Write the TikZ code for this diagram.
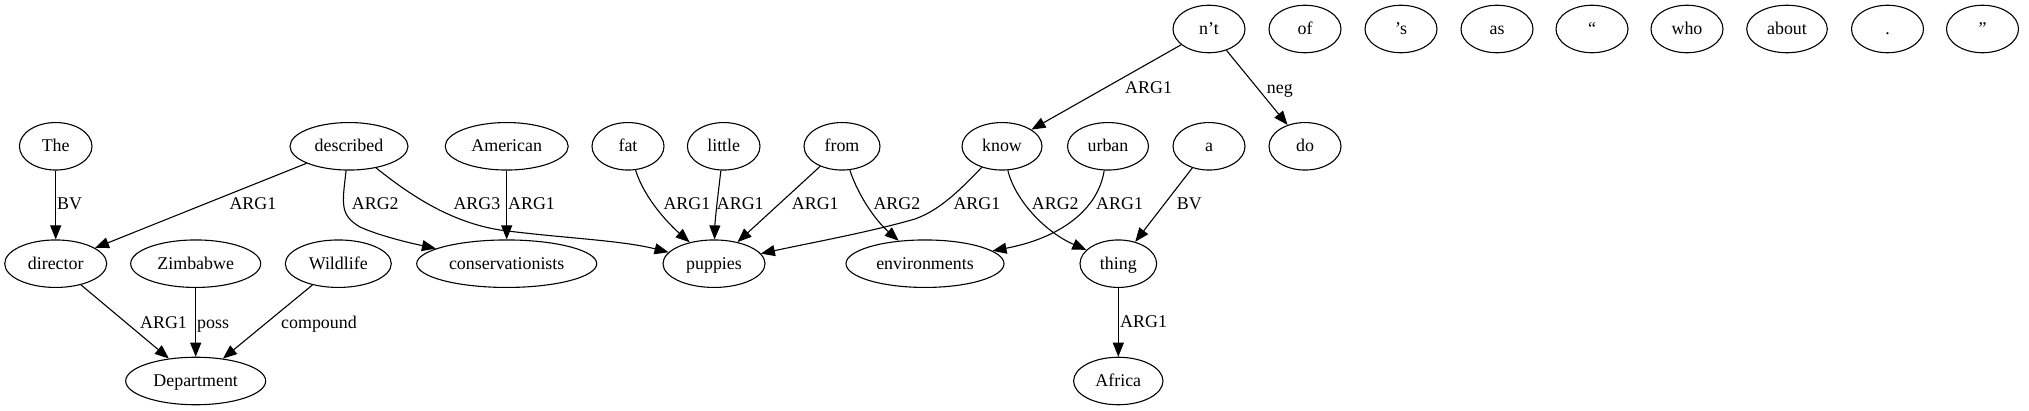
\documentclass[tikz,border=0pt]{standalone}
\usepackage{fontspec}
\setmainfont{Liberation Serif}
\usetikzlibrary{shapes.geometric,arrows.meta}
\begin{document}
\begin{tikzpicture}[x=1pt,y=-1pt,
  wn/.style={draw,ellipse,line width=1.1pt,inner sep=0pt,minimum height=47.5pt,
    text height=14.8pt,text depth=4pt,font=\fontsize{17.9}{20}\selectfont},
  lb/.style={anchor=base west,inner sep=0pt,font=\fontsize{17.9}{20}\selectfont},
  ed/.style={line width=1.1pt,-{Triangle[length=14pt,width=11pt]}}]
\useasboundingbox (0,0) rectangle (2029,411);
% row 1
\node[wn,minimum width=72pt] (nt) at (1209,29) {n’t};
\node[wn,minimum width=72pt] (of) at (1305,29) {of};
\node[wn,minimum width=72pt] (s) at (1401,29) {’s};
\node[wn,minimum width=72pt] (as) at (1497,29) {as};
\node[wn,minimum width=72pt] (lq) at (1592,29) {“};
\node[wn,minimum width=72pt] (who) at (1687,29) {who};
\node[wn,minimum width=80.6pt] (about) at (1787,29) {about};
\node[wn,minimum width=72pt] (dot) at (1887.5,29) {.};
\node[wn,minimum width=72pt] (rq) at (1982.5,29) {”};
% row 2
\node[wn,minimum width=72.6pt] (The) at (55.7,146.3) {The};
\node[wn,minimum width=118pt] (described) at (349,146.3) {described};
\node[wn,minimum width=123pt] (American) at (506.7,146.3) {American};
\node[wn,minimum width=72pt] (fat) at (628,146.3) {fat};
\node[wn,minimum width=72.6pt] (little) at (723.7,146.3) {little};
\node[wn,minimum width=76pt] (from) at (842,146.3) {from};
\node[wn,minimum width=80pt] (know) at (1002,146.3) {know};
\node[wn,minimum width=81pt] (urban) at (1108,146.3) {urban};
\node[wn,minimum width=72pt] (a) at (1209,146.3) {a};
\node[wn,minimum width=72pt] (do) at (1305,146.3) {do};
% row 3
\node[wn,minimum width=102pt] (director) at (55.7,263.7) {director};
\node[wn,minimum width=130pt] (Zimbabwe) at (195.7,263.7) {Zimbabwe};
\node[wn,minimum width=106pt] (Wildlife) at (338.3,263.7) {Wildlife};
\node[wn,minimum width=180pt] (cons) at (506.7,263.7) {conservationists};
\node[wn,minimum width=102pt] (puppies) at (714,263.7) {puppies};
\node[wn,minimum width=158pt] (env) at (925,263.7) {environments};
\node[wn,minimum width=76.6pt] (thing) at (1118.3,263.7) {thing};
% row 4
\node[wn,minimum width=140pt] (Dept) at (195.7,381) {Department};
\node[wn,minimum width=89.4pt] (Africa) at (1118.3,381) {Africa};
% edges
\draw[ed] (The) -- (director);
\draw[ed] (described) -- (director);
\draw[ed] (described) .. controls (342,205) and (340,215) .. (360,227) .. controls (380,236) and (410,243) .. (cons);
\draw[ed] (described) .. controls (410,195) and (450,222) .. (500,230) .. controls (560,238) and (620,240) .. (puppies);
\draw[ed] (American) -- (cons);
\draw[ed] (fat) .. controls (645,200) and (670,225) .. (puppies);
\draw[ed] (little) .. controls (718,195) and (715,220) .. (puppies);
\draw[ed] (from) -- (puppies);
\draw[ed] (from) .. controls (858,195) and (875,220) .. (env);
\draw[ed] (know) .. controls (960,190) and (940,210) .. (915,219) .. controls (870,232) and (810,243) .. (puppies);
\draw[ed] (know) .. controls (1015,200) and (1045,232) .. (thing);
\draw[ed] (urban) .. controls (1098,210) and (1060,238) .. (env);
\draw[ed] (a) -- (thing);
\draw[ed] (nt) -- (know);
\draw[ed] (nt) -- (do);
\draw[ed] (director) -- (Dept);
\draw[ed] (Zimbabwe) -- (Dept);
\draw[ed] (Wildlife) -- (Dept);
\draw[ed] (thing) -- (Africa);
% labels
\node[lb] (l1) at (57,210) {BV};
\node[lb] (l2) at (229.3,210) {ARG1};
\node[lb] (l3) at (351.7,210) {ARG2};
\node[lb] (l4) at (453.3,210) {ARG3};
\node[lb] (l5) at (508,210) {ARG1};
\node[lb] (l6) at (663.3,210) {ARG1};
\node[lb] (l7) at (716.7,210) {ARG1};
\node[lb] (l8) at (791.7,210) {ARG1};
\node[lb] (l9) at (873.3,210) {ARG2};
\node[lb] (l10) at (953.3,210) {ARG1};
\node[lb] (l11) at (1031.7,210) {ARG2};
\node[lb] (l12) at (1096,210) {ARG1};
\node[lb] (l13) at (1176.7,210) {BV};
\node[lb] (l14) at (1125,93.3) {ARG1};
\node[lb] (l15) at (1266.7,93.3) {neg};
\node[lb] (l16) at (140,328.3) {ARG1};
\node[lb] (l17) at (197,328.3) {poss};
\node[lb] (l18) at (281,328.3) {compound};
\node[lb] (l19) at (1120,327.3) {ARG1};
\end{tikzpicture}
\end{document}
